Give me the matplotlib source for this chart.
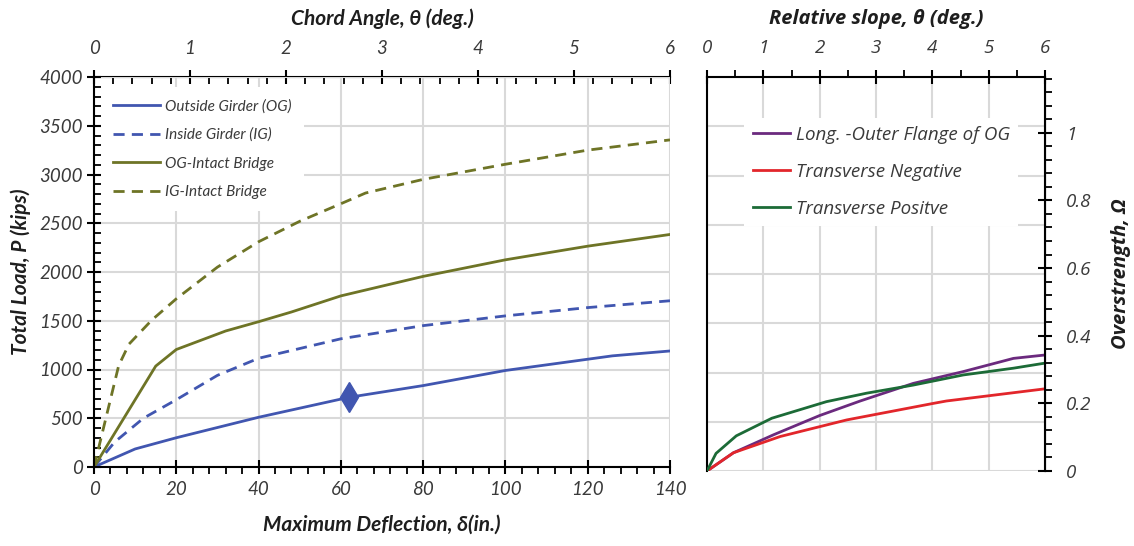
import matplotlib
matplotlib.use("Agg")
import matplotlib.pyplot as plt
from matplotlib.ticker import MultipleLocator, FixedLocator

# ---------------- data ----------------
og_x = [0, 10, 20, 40, 62, 80, 100, 126, 140]
og_y = [0, 185, 300, 510, 715, 835, 990, 1140, 1190]
og_marker_x = [62]
og_marker_y = [715]

ig_x = [0, 5, 12, 20, 30, 40, 45, 60, 80, 100, 120, 140]
ig_y = [0, 255, 500, 690, 940, 1115, 1165, 1315, 1450, 1550, 1635, 1705]

ogi_x = [0, 15, 20, 32, 40, 48, 60, 80, 100, 120, 140]
ogi_y = [0, 1035, 1205, 1395, 1490, 1590, 1755, 1955, 2125, 2265, 2385]

igi_x = [0, 6, 8.5, 14, 20, 30, 40, 50, 60, 66, 80, 100, 120, 140]
igi_y = [0, 1040, 1260, 1505, 1725, 2050, 2310, 2520, 2700, 2810, 2950, 3105, 3250, 3355]

long_x = [0, 0.47, 1.18, 2.0, 2.72, 3.66, 4.55, 5.44, 6.0]
long_y = [0, 0.054, 0.107, 0.164, 0.207, 0.259, 0.294, 0.333, 0.343]

tneg_x = [0, 0.47, 1.30, 2.48, 4.02, 4.25, 6.0]
tneg_y = [0, 0.054, 0.102, 0.151, 0.200, 0.207, 0.243]

tpos_x = [0, 0.16, 0.52, 1.15, 2.12, 2.83, 3.66, 4.55, 5.44, 6.0]
tpos_y = [0, 0.052, 0.104, 0.156, 0.205, 0.230, 0.254, 0.284, 0.304, 0.319]

left_labels = ["Outside Girder (OG)", "Inside Girder (IG)", "OG-Intact Bridge", "IG-Intact Bridge"]
right_labels = ["Long. -Outer Flange of OG", "Transverse Negative", "Transverse Positve"]
theta_ticks = [0, 1, 2, 3, 4, 5, 6]

# ---------------- style ----------------
FAM_L = ["Lato", "DejaVu Sans"]
FAM_R = ["Open Sans", "DejaVu Sans"]
plt.rcParams["font.family"] = FAM_L
BLUE = "#4156B0"
OLIVE = "#6E7426"
PURPLE = "#6B2A7E"
RED = "#E2262B"
GREEN = "#1C6B37"
GRID = "#D9D9D9"
TXT = "#3A3A3A"
TITLE = "#1E1E1E"

fig = plt.figure(figsize=(11.34, 5.46), dpi=100)
W, H = 1134, 546

def rect(x0, x1, y0, y1):
    return [x0 / W, 1 - y1 / H, (x1 - x0) / W, (y1 - y0) / H]

# ================= left panel =================
ax = fig.add_axes(rect(94, 670, 77, 467))
ax.plot(og_x, og_y, color=BLUE, lw=2, label=left_labels[0])
ax.plot(ig_x, ig_y, color=BLUE, lw=2, ls=(0, (4, 2.6)), label=left_labels[1])
ax.plot(ogi_x, ogi_y, color=OLIVE, lw=2, label=left_labels[2])
ax.plot(igi_x, igi_y, color=OLIVE, lw=2, ls=(0, (4, 2.6)), label=left_labels[3])
ax.plot(og_marker_x, og_marker_y, marker="d", color=BLUE, ms=15, ls="none")

ax.set_xlim(0, 140)
ax.set_ylim(0, 4000)
ax.xaxis.set_major_locator(MultipleLocator(20))
ax.xaxis.set_minor_locator(MultipleLocator(4))
ax.yaxis.set_major_locator(MultipleLocator(500))
ax.yaxis.set_minor_locator(MultipleLocator(100))
ax.grid(True, which="major", color=GRID, lw=1.5)
ax.set_axisbelow(True)
for s in ["left", "bottom"]:
    ax.spines[s].set_color("black")
    ax.spines[s].set_linewidth(1.5)
ax.spines["right"].set_visible(False)
ax.spines["top"].set_visible(False)
ax.tick_params(axis="x", which="major", direction="inout", length=10, width=1.5, labelsize=13.5,
               labelcolor=TXT, pad=5)
ax.tick_params(axis="x", which="minor", direction="out", length=5, width=1.3)
ax.tick_params(axis="y", which="major", direction="inout", length=10, width=1.5, labelsize=13.5,
               labelcolor=TXT, pad=3)
ax.tick_params(axis="y", which="minor", direction="in", length=5, width=1.3)
for lab in ax.get_xticklabels() + ax.get_yticklabels():
    lab.set_fontstyle("italic")

ax.set_xlabel("Maximum Deflection, δ(in.)", fontsize=15, fontweight="bold", fontstyle="italic",
              color=TITLE, labelpad=12, family=FAM_L)
ax.set_ylabel("Total Load, P (kips)", fontsize=15, fontweight="bold", fontstyle="italic",
              color=TITLE, labelpad=6, family=FAM_L)

top = ax.secondary_xaxis("top", functions=(lambda d: d * 6 / 140, lambda t: t * 140 / 6))
top.xaxis.set_major_locator(FixedLocator(theta_ticks))
top.xaxis.set_minor_locator(FixedLocator([i * 0.2 for i in range(31)]))
top.spines["top"].set_linewidth(1.5)
top.tick_params(which="major", direction="inout", length=10, width=1.5, labelsize=13.5,
                labelcolor=TXT, pad=9.7)
top.tick_params(which="minor", direction="in", length=5, width=1.3)
for lab in top.get_xticklabels():
    lab.set_fontstyle("italic")
top.set_xlabel("Chord Angle, θ (deg.)", fontsize=15, fontweight="bold", fontstyle="italic",
               color=TITLE, labelpad=10.2, family=FAM_L)

leg = ax.legend(loc="upper left", bbox_to_anchor=(0.012, 0.975), frameon=True, fancybox=False,
                edgecolor="none", facecolor="white", framealpha=1,
                handlelength=3.1, handletextpad=0.3, labelspacing=0.95, borderpad=0.8,
                borderaxespad=0.0, prop={"style": "italic", "size": 11, "family": FAM_L})
for t in leg.get_texts():
    t.set_color(TXT)

# ================= right panel =================
axr = fig.add_axes(rect(707, 1045, 77, 471))
axr.set_xlim(0, 6)
axr.set_ylim(0, 4000)
axr.xaxis.set_major_locator(MultipleLocator(1))
axr.xaxis.set_minor_locator(MultipleLocator(0.5))
axr.yaxis.set_major_locator(MultipleLocator(500))
axr.grid(True, which="major", color=GRID, lw=1.5)
axr.set_axisbelow(True)
axr.xaxis.tick_top()
axr.tick_params(axis="x", which="major", direction="inout", length=10, width=1.5, labelsize=13.5,
                labelcolor=TXT, pad=9.7)
axr.tick_params(axis="x", which="minor", direction="out", length=5, width=1.3)
axr.tick_params(axis="x", which="both", bottom=False, labelbottom=False)
for lab in axr.get_xticklabels():
    lab.set_fontstyle("italic")
    lab.set_family(FAM_R)
axr.spines["bottom"].set_visible(False)
for s in ["left", "top"]:
    axr.spines[s].set_linewidth(1.5)
    axr.spines[s].set_color("black")
axr.xaxis.set_label_position("top")
axr.set_xlabel("Relative slope, θ (deg.)", fontsize=14.5, fontweight="bold", fontstyle="italic",
               color=TITLE, labelpad=10.2, family=FAM_R)

axr2 = axr.twinx()
axr.tick_params(axis="y", which="both", left=False, right=False, labelleft=False, labelright=False)
axr2.plot(long_x, long_y, color=PURPLE, lw=2, label=right_labels[0])
axr2.plot(tneg_x, tneg_y, color=RED, lw=2, label=right_labels[1])
axr2.plot(tpos_x, tpos_y, color=GREEN, lw=2, label=right_labels[2])
axr2.set_ylim(0, 1.165)
axr2.set_xlim(0, 6)
axr2.yaxis.set_major_locator(MultipleLocator(0.2))
axr2.yaxis.set_minor_locator(MultipleLocator(0.04))
axr2.yaxis.set_major_formatter(plt.FuncFormatter(
    lambda v, p: "0" if abs(v) < 1e-9 else ("1" if abs(v - 1) < 1e-9 else f"{v:.1f}")))
axr2.tick_params(axis="y", which="major", direction="inout", length=10, width=1.5, labelsize=13.5,
                 labelcolor=TXT, pad=10)
axr2.tick_params(axis="y", which="minor", direction="out", length=5, width=1.3)
for lab in axr2.get_yticklabels():
    lab.set_fontstyle("italic")
    lab.set_family(FAM_R)
axr2.spines["right"].set_linewidth(1.5)
axr2.spines["bottom"].set_visible(False)
axr2.spines["left"].set_visible(False)
axr2.spines["top"].set_visible(False)
axr2.set_ylabel("Overstrength, Ω", fontsize=14.5, fontweight="bold", fontstyle="italic",
                color=TITLE, labelpad=14, family=FAM_R)

leg2 = axr2.legend(loc="upper left", bbox_to_anchor=(0.11, 0.897), frameon=True, fancybox=False,
                   edgecolor="none", facecolor="white", framealpha=1,
                   handlelength=2.0, handletextpad=0.3, labelspacing=1.0, borderpad=0.45,
                   borderaxespad=0.0, prop={"style": "italic", "size": 13.5, "family": FAM_R})
for t in leg2.get_texts():
    t.set_color(TXT)

fig.savefig("out.png", dpi=100)
